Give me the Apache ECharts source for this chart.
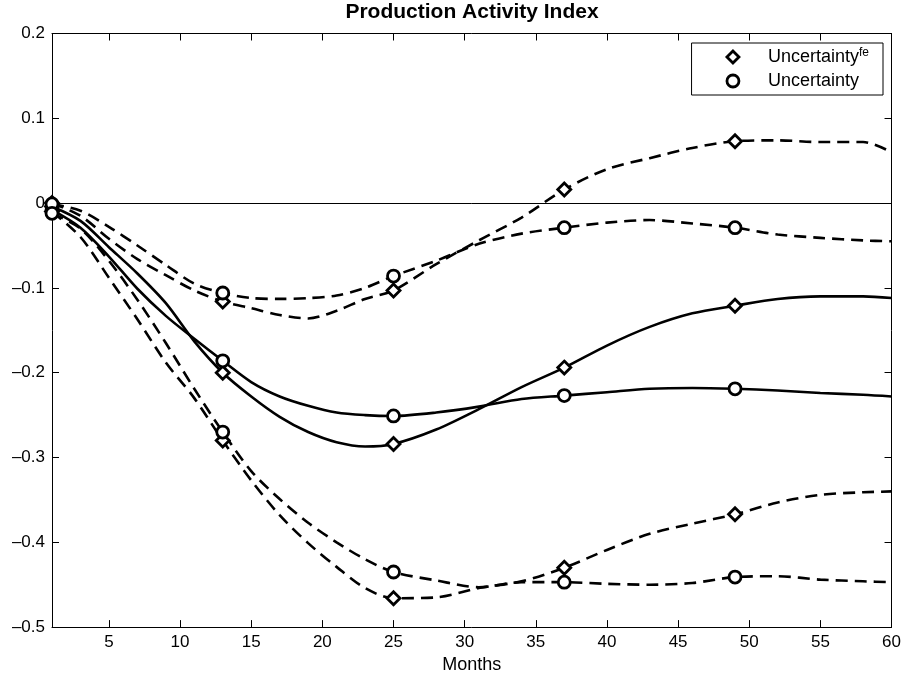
<!DOCTYPE html>
<html lang="en">
<head>
  <meta charset="UTF-8">
  <style>
    body { margin: 0; background: #fff; }
    #chart { width: 904px; height: 679px; }
  </style>
  <title>Production Activity Index</title>
</head>
<body>
  <div id="chart"></div>
  <script src="https://cdn.jsdelivr.net/npm/echarts@6/dist/echarts.min.js"></script>
  <script>
    const months = [1, 3, 5, 7, 9, 11, 13, 15, 17, 19, 21, 23, 25, 28, 31, 34, 37, 40, 43, 46, 49, 52, 55, 58, 60];
    const markerMonths = [1, 13, 25, 37, 49];
    const xTicks = [5, 10, 15, 20, 25, 30, 35, 40, 45, 50, 55, 60];

    // Uncertainty^fe: median + bands
    const feMid = [-0.004, -0.021, -0.052, -0.083, -0.118, -0.163, -0.200, -0.228, -0.252, -0.270, -0.282, -0.287, -0.284, -0.267, -0.243, -0.217, -0.194, -0.168, -0.146, -0.130, -0.121, -0.113, -0.110, -0.110, -0.112];
    const feHigh = [0.000, -0.015, -0.042, -0.066, -0.085, -0.103, -0.116, -0.124, -0.132, -0.136, -0.127, -0.113, -0.103, -0.072, -0.044, -0.017, 0.016, 0.040, 0.053, 0.065, 0.073, 0.074, 0.072, 0.072, 0.060];
    const feLow = [-0.010, -0.040, -0.088, -0.137, -0.188, -0.230, -0.280, -0.327, -0.368, -0.401, -0.429, -0.454, -0.466, -0.465, -0.454, -0.446, -0.430, -0.409, -0.390, -0.378, -0.367, -0.353, -0.344, -0.341, -0.340];

    // Uncertainty: median + bands
    const unMid = [-0.008, -0.029, -0.063, -0.101, -0.133, -0.160, -0.186, -0.211, -0.228, -0.239, -0.247, -0.250, -0.251, -0.247, -0.240, -0.231, -0.227, -0.223, -0.219, -0.218, -0.219, -0.221, -0.224, -0.226, -0.228];
    const unHigh = [-0.001, -0.009, -0.028, -0.050, -0.073, -0.095, -0.106, -0.112, -0.113, -0.112, -0.109, -0.100, -0.086, -0.068, -0.048, -0.036, -0.029, -0.023, -0.020, -0.024, -0.029, -0.037, -0.041, -0.044, -0.045];
    const unLow = [-0.012, -0.030, -0.068, -0.114, -0.165, -0.219, -0.270, -0.316, -0.349, -0.377, -0.400, -0.420, -0.435, -0.445, -0.453, -0.447, -0.447, -0.449, -0.450, -0.448, -0.441, -0.440, -0.444, -0.446, -0.447];

    const FE = 'Uncertainty^fe';
    const UN = 'Uncertainty';
    const DIAMOND = 'path://M0,-10L10,0L0,10L-10,0Z';
    const FONT = 'Liberation Sans, Arial, sans-serif';
    const markerStyle = { color: '#fff', borderColor: '#000', borderWidth: 2.8, opacity: 1 };

    function pts(arr) {
      return months.map((m, i) => [m, arr[i]]);
    }
    function markerPts(list) {
      const out = [];
      list.forEach(arr => {
        markerMonths.forEach(m => {
          out.push([m, arr[months.indexOf(m)]]);
        });
      });
      return out;
    }
    function curve(arr, dashed) {
      return {
        type: 'line',
        data: pts(arr),
        symbol: 'none',
        smooth: 0.3,
        silent: true,
        z: 2,
        lineStyle: { color: '#000', width: 2.6, type: dashed ? [12, 7] : 'solid' }
      };
    }
    function fmtY(v) {
      const r = Math.round(v * 10) / 10;
      if (r === 0) return '0';
      return (r < 0 ? '\u2013' : '') + Math.abs(r).toFixed(1);
    }

    const axisCommon = {
      axisLine: { show: true, onZero: false, lineStyle: { color: '#000', width: 1 } },
      axisTick: { show: true, inside: true, length: 7, lineStyle: { color: '#000', width: 1 } },
      splitLine: { show: false }
    };

    const series = [
      Object.assign(curve(feMid, false), {
        markLine: {
          silent: true,
          symbol: 'none',
          label: { show: false },
          lineStyle: { color: '#000', width: 1, type: 'solid' },
          data: [{ yAxis: 0 }]
        }
      }),
      curve(feHigh, true),
      curve(feLow, true),
      curve(unMid, false),
      curve(unHigh, true),
      curve(unLow, true),
      {
        name: FE,
        type: 'scatter',
        data: markerPts([feMid, feHigh, feLow]),
        symbol: DIAMOND,
        symbolSize: 13,
        z: 5,
        silent: true,
        itemStyle: markerStyle
      },
      {
        name: UN,
        type: 'scatter',
        data: markerPts([unMid, unHigh, unLow]),
        symbol: 'circle',
        symbolSize: 12,
        z: 5,
        silent: true,
        itemStyle: markerStyle
      }
    ];

    const chart = echarts.init(document.getElementById('chart'));
    chart.setOption({
      animation: false,
      backgroundColor: '#fff',
      textStyle: { fontFamily: FONT, color: '#000' },
      title: {
        text: 'Production Activity Index',
        left: 472,
        textAlign: 'center',
        top: 2,
        padding: 0,
        textStyle: { fontFamily: FONT, fontWeight: 'bold', fontSize: 21, color: '#000' }
      },
      grid: { left: 52, right: 12, top: 33.5, bottom: 48, containLabel: false },
      legend: {
        orient: 'vertical',
        right: 21,
        top: 43,
        data: [{ name: FE, icon: DIAMOND }, { name: UN, icon: 'circle' }],
        itemWidth: 12,
        itemHeight: 12,
        itemGap: 4,
        padding: [4, 14, 4, 34],
        borderColor: '#000',
        borderWidth: 1,
        borderRadius: 0,
        backgroundColor: '#fff',
        selectedMode: false,
        itemStyle: { color: '#fff', borderColor: '#000', borderWidth: 2.8, opacity: 1 },
        formatter: name => name === FE ? 'Uncertainty{sup|fe}' : name,
        textStyle: {
          fontFamily: FONT,
          fontSize: 18,
          color: '#000',
          lineHeight: 20,
          padding: [0, 0, 0, 24],
          rich: {
            sup: { fontFamily: FONT, fontSize: 12, color: '#000', verticalAlign: 'top', lineHeight: 10 }
          }
        }
      },
      xAxis: [
        Object.assign({}, axisCommon, {
          type: 'value',
          min: 1,
          max: 60,
          position: 'bottom',
          axisTick: Object.assign({}, axisCommon.axisTick, { customValues: xTicks }),
          axisLabel: { customValues: xTicks, margin: 7, fontSize: 17, fontFamily: FONT, color: '#000' },
          name: 'Months',
          nameLocation: 'middle',
          nameGap: 26,
          nameTextStyle: { fontSize: 18, fontFamily: FONT, color: '#000' }
        }),
        Object.assign({}, axisCommon, {
          type: 'value',
          min: 1,
          max: 60,
          position: 'top',
          axisTick: Object.assign({}, axisCommon.axisTick, { customValues: xTicks }),
          axisLabel: { show: false }
        })
      ],
      yAxis: [
        Object.assign({}, axisCommon, {
          type: 'value',
          min: -0.5,
          max: 0.2,
          interval: 0.1,
          position: 'left',
          axisLabel: { formatter: fmtY, margin: 7, fontSize: 17, fontFamily: FONT, color: '#000' }
        }),
        Object.assign({}, axisCommon, {
          type: 'value',
          min: -0.5,
          max: 0.2,
          interval: 0.1,
          position: 'right',
          axisLabel: { show: false }
        })
      ],
      series: series
    });
  </script>
</body>
</html>
